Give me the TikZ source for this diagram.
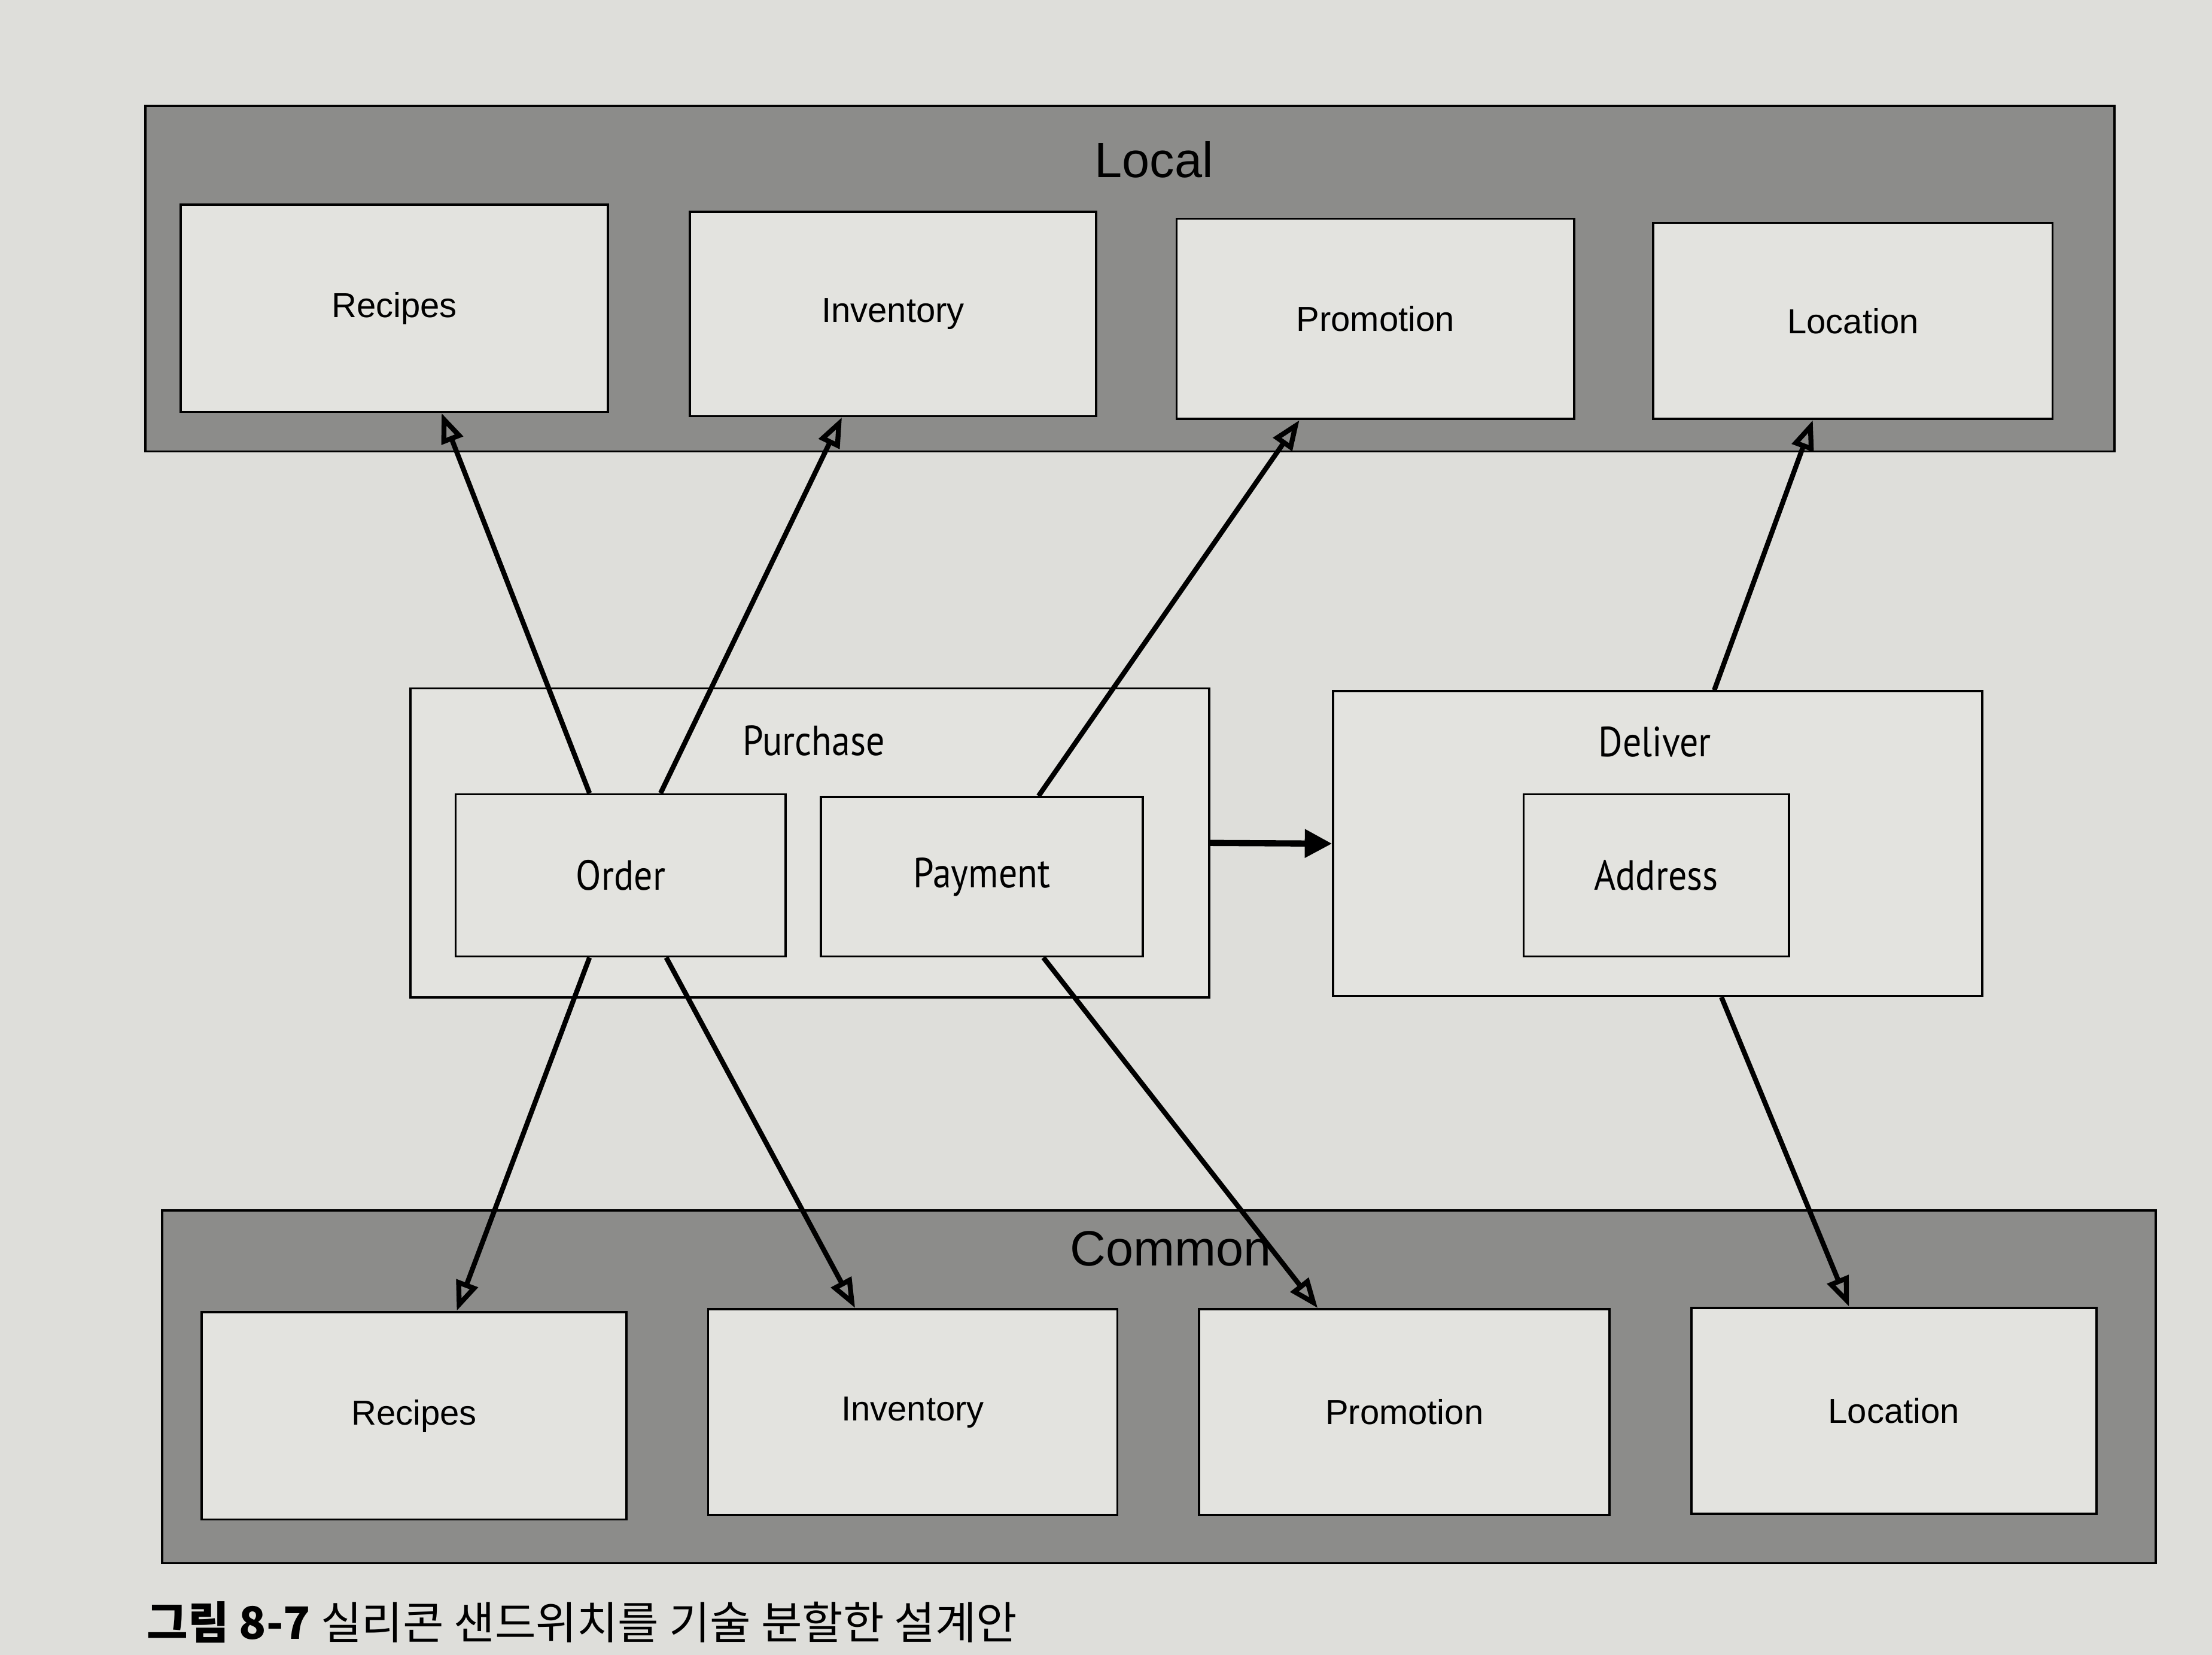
\documentclass[tikz,border=0pt]{standalone}
\usepackage{fontspec}
\setmainfont{Liberation Sans}
\newfontfamily\humfont[FakeStretch=0.88]{PT Sans}
\newfontfamily\cjk{Noto Sans CJK KR}
\usetikzlibrary{arrows.meta,calc,fit}

\definecolor{paper}{RGB}{222,222,218}
\definecolor{band}{RGB}{140,140,138}
\definecolor{boxfill}{RGB}{227,227,223}

\begin{document}
\begin{tikzpicture}[x=0.02cm,y=-0.02cm,
		bandbox/.style={draw,fill=band,line width=0.9pt,inner sep=0pt},
		svcbox/.style={draw,fill=boxfill,line width=0.9pt,inner sep=0pt,label={[font=\fontsize{14}{16}\selectfont]center:#1}},
		ctxbox/.style={draw,fill=boxfill,line width=0.9pt,inner sep=0pt},
		ctxtext/.style={font=\humfont\fontsize{17}{19}\selectfont},
		dep/.style={line width=2pt,-{Triangle[open,length=12pt,width=9pt,line width=2pt]}}]
		\useasboundingbox [fill=paper] (0,0) rectangle (1568,1173);
		
		% bands
		\node [bandbox,fit={(103,75) (1499,320)}] (local) {};
		\node [font=\fontsize{20}{24}\selectfont] (locallabel) at (818,113) {Local};
		\node [bandbox,fit={(115,858) (1528,1108)}] (common) {};
		\node [font=\fontsize{20}{24}\selectfont] (commonlabel) at (830,885) {Common};
		
		% local services
		\node [svcbox=Recipes,fit={(128,145) (431,292)}] (lrec) {};
		\node [svcbox=Inventory,fit={(489,150) (777,295)}] (linv) {};
		\node [svcbox=Promotion,fit={(834,155) (1116,297)}] (lpro) {};
		\node [svcbox=Location,fit={(1172,158) (1455,297)}] (lloc) {};
		
		% common services
		\node [svcbox=Recipes,fit={(143,930) (444,1077)}] (crec) {};
		\node [svcbox=Inventory,fit={(502,928) (792,1074)}] (cinv) {};
		\node [svcbox=Promotion,fit={(850,928) (1141,1074)}] (cpro) {};
		\node [svcbox=Location,fit={(1199,927) (1486,1073)}] (cloc) {};
		
		% contexts
		\node [ctxbox,fit={(291,488) (857,707)}] (purchase) {};
		\node [ctxtext] (purchaselabel) at (577,525) {Purchase};
		\node [ctxbox,fit={(323,563) (557,678)}] (order) {};
		\node [ctxtext] at (order) {Order};
		\node [ctxbox,fit={(582,565) (810,678)}] (payment) {};
		\node [ctxtext] at (payment) {Payment};
		
		\node [ctxbox,fit={(945,490) (1405,706)}] (deliver) {};
		\node [ctxtext] (deliverlabel) at (1173,526) {Deliver};
		\node [ctxbox,fit={(1080,563) (1268,678)}] (address) {};
		\node [ctxtext] at (address) {Address};
		
		% dependencies up
		\draw [dep] ($(order.north west)!0.406!(order.north east)$) -- ($(lrec.south west)!0.61!(lrec.south east)$);
		\draw [dep] ($(order.north west)!0.62!(order.north east)$) -- ($(linv.south west)!0.375!(linv.south east)$);
		\draw [dep] ($(payment.north west)!0.675!(payment.north east)$) -- ($(lpro.south west)!0.31!(lpro.south east)$);
		\draw [dep] ($(deliver.north west)!0.587!(deliver.north east)$) -- ($(lloc.south west)!0.40!(lloc.south east)$);
		
		% dependencies down
		\draw [dep] ($(order.south west)!0.406!(order.south east)$) -- ($(crec.north west)!0.60!(crec.north east)$);
		\draw [dep] ($(order.south west)!0.637!(order.south east)$) -- ($(cinv.north west)!0.36!(cinv.north east)$);
		\draw [dep] ($(payment.south west)!0.69!(payment.south east)$) -- ($(cpro.north west)!0.29!(cpro.north east)$);
		\draw [dep] ($(deliver.south west)!0.598!(deliver.south east)$) -- ($(cloc.north west)!0.39!(cloc.north east)$);
		
		\draw [line width=2.5pt,-{Triangle[length=11pt,width=11pt]}] (purchase.east) -- (deliver.west);
		
		% caption
		\node [anchor=west,font=\cjk\fontsize{18}{22}\selectfont] (caption) at (98,1150) {{\bfseries 그림 8-7} 실리콘 샌드위치를 기술 분할한 설계안};
\end{tikzpicture}
\end{document}
